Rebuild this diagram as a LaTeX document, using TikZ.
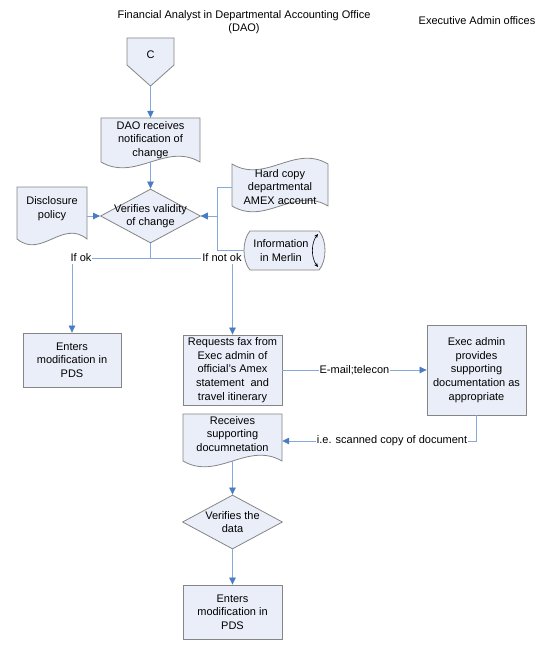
\documentclass[tikz,border=0pt]{standalone}
\usepackage{fontspec}
\setmainfont{Liberation Sans}
\usetikzlibrary{arrows.meta,shapes.geometric,calc}
\definecolor{boxfill}{HTML}{E9EEF8}
\definecolor{boxline}{HTML}{858585}
\definecolor{conn}{HTML}{86A9DC}
\definecolor{tipc}{HTML}{4A7CC4}
\newcommand\wavedoc[4]{%
  \filldraw[shp] (#1,#2) -- (#3,#2) -- (#3,#4) .. controls ({#1+0.65*(#3-#1)},{#4-20}) and ({#1+0.35*(#3-#1)},{#4+20}) .. (#1,#4) -- cycle;}
\newcommand\wavetape[4]{%
  \filldraw[shp] (#1,#2) .. controls ({#1+0.35*(#3-#1)},{#2+20}) and ({#1+0.65*(#3-#1)},{#2-20}) .. (#3,#2) -- (#3,#4) .. controls ({#1+0.65*(#3-#1)},{#4-20}) and ({#1+0.35*(#3-#1)},{#4+20}) .. (#1,#4) -- cycle;}
\begin{document}
\begin{tikzpicture}[x=1pt,y=-1pt,
  shp/.style={draw=boxline,fill=boxfill,line width=0.8pt},
  txt/.style={font=\fontsize{11}{13.6}\selectfont,align=center,inner sep=0pt},
  box/.style={shp,txt,rectangle},
  dia/.style={shp,txt,diamond,aspect=1.85,inner sep=-4pt,minimum width=100pt,minimum height=54pt},
  ghost/.style={txt,rectangle,draw=none},
  arr/.style={draw=conn,line width=0.7pt,-{Triangle[length=7pt,width=6.5pt,color=tipc]}},
  ln/.style={draw=conn,line width=0.7pt},
  lbl/.style={txt,fill=white,inner xsep=1pt,inner ysep=1.5pt}
]
\useasboundingbox (0,0) rectangle (550,666);

% titles
\node[txt] (t1) at (244,22) {Financial Analyst in Departmental Accounting Office\\(DAO)};
\node[txt] (t2) at (477,21) {Executive Admin offices};

% off-page connector C
\filldraw[shp] (127,38) -- (174,38) -- (174,65) -- (150.5,86) coordinate (ctip) -- (127,65) -- cycle;
\node[txt] (c) at (150.5,55) {C};

% DAO receives notification (document)
\wavedoc{101}{118}{200}{162}
\node[ghost,minimum width=99pt,minimum height=44pt] (dao) at (150.5,140) {DAO receives\\notification of\\change};

% decision 1
\node[dia] (d1) at (150.5,216) {Verifies validity\\of change};

% disclosure policy (document)
\wavedoc{17}{187}{87}{239}
\node[ghost,minimum width=70pt,minimum height=61pt] (disc) at (52,208.5) {Disclosure\\policy};

% hard copy (tape)
\wavetape{232}{164}{328}{206}
\node[ghost,minimum width=96pt,minimum height=42pt] (hc) at (280,187) {Hard copy\\departmental\\AMEX account};

% information in Merlin (stored data)
\filldraw[shp] (250,231) -- (319,231) .. controls (327,240) and (327,261) .. (319,270) -- (250,270) .. controls (242,261) and (242,240) .. (250,231) -- cycle;
\draw[black,line width=0.6pt,{Stealth[length=4pt,width=3.5pt]}-{Stealth[length=4pt,width=3.5pt]}] (318,234) .. controls (311,243) and (311,258) .. (318,267);
\node[ghost,minimum width=74pt,minimum height=39pt] (mer) at (281,250.5) {Information\\in Merlin};

% boxes
\node[box,minimum width=98pt,minimum height=54pt] (e1) at (72,360) {Enters\\modification in\\PDS};
\node[box,minimum width=99pt,minimum height=70pt] (req) at (232.5,370) {Requests fax from\\Exec admin of\\official's Amex\\statement\ \ and\\travel itinerary};
\node[box,minimum width=99pt,minimum height=90pt] (exec) at (476.5,370) {Exec admin\\provides\\supporting\\documentation as\\appropriate};

% receives supporting documentation (document)
\wavedoc{183}{414}{282}{461}
\node[ghost,minimum width=99pt,minimum height=54pt] (rec) at (232.5,434) {Receives\\supporting\\documnetation};

% decision 2 and final box
\node[dia] (d2) at (232.5,522) {Verifies the\\data};
\node[box,minimum width=99pt,minimum height=54pt] (e2) at (232.5,612) {Enters\\modification in\\PDS};

% connectors
\draw[arr] (ctip) -- (dao.north);
\draw[arr] (dao.south) -- (d1.north);
\draw[arr] (d1.west -| disc.east) -- (d1.west);
\draw[arr] (hc.west) -| ($(d1.east)+(16,0)$) -- (d1.east);
\draw[arr] (mer.west) -| ($(d1.east)+(16,0)$) -- (d1.east);
\draw[ln] (d1.south) -- ++(0,15) coordinate (split);
\draw[arr] (split) -| (e1.north);
\draw[arr] (split) -| (req.north);
\node[lbl] (ifok) at (81,258) {If ok};
\node[lbl] (ifnot) at (222,258) {If not ok};
\draw[arr] (req.east) -- node[lbl] (email) {E-mail;telecon} (exec.west);
\draw[arr] (exec.south) |- ($(rec.east)+(0,7)$);
\node[lbl] (scan) at (392,441) {i.e. scanned copy of document};
\draw[arr] (rec.south) -- (d2.north);
\draw[arr] (d2.south) -- (e2.north);
\end{tikzpicture}
\end{document}
